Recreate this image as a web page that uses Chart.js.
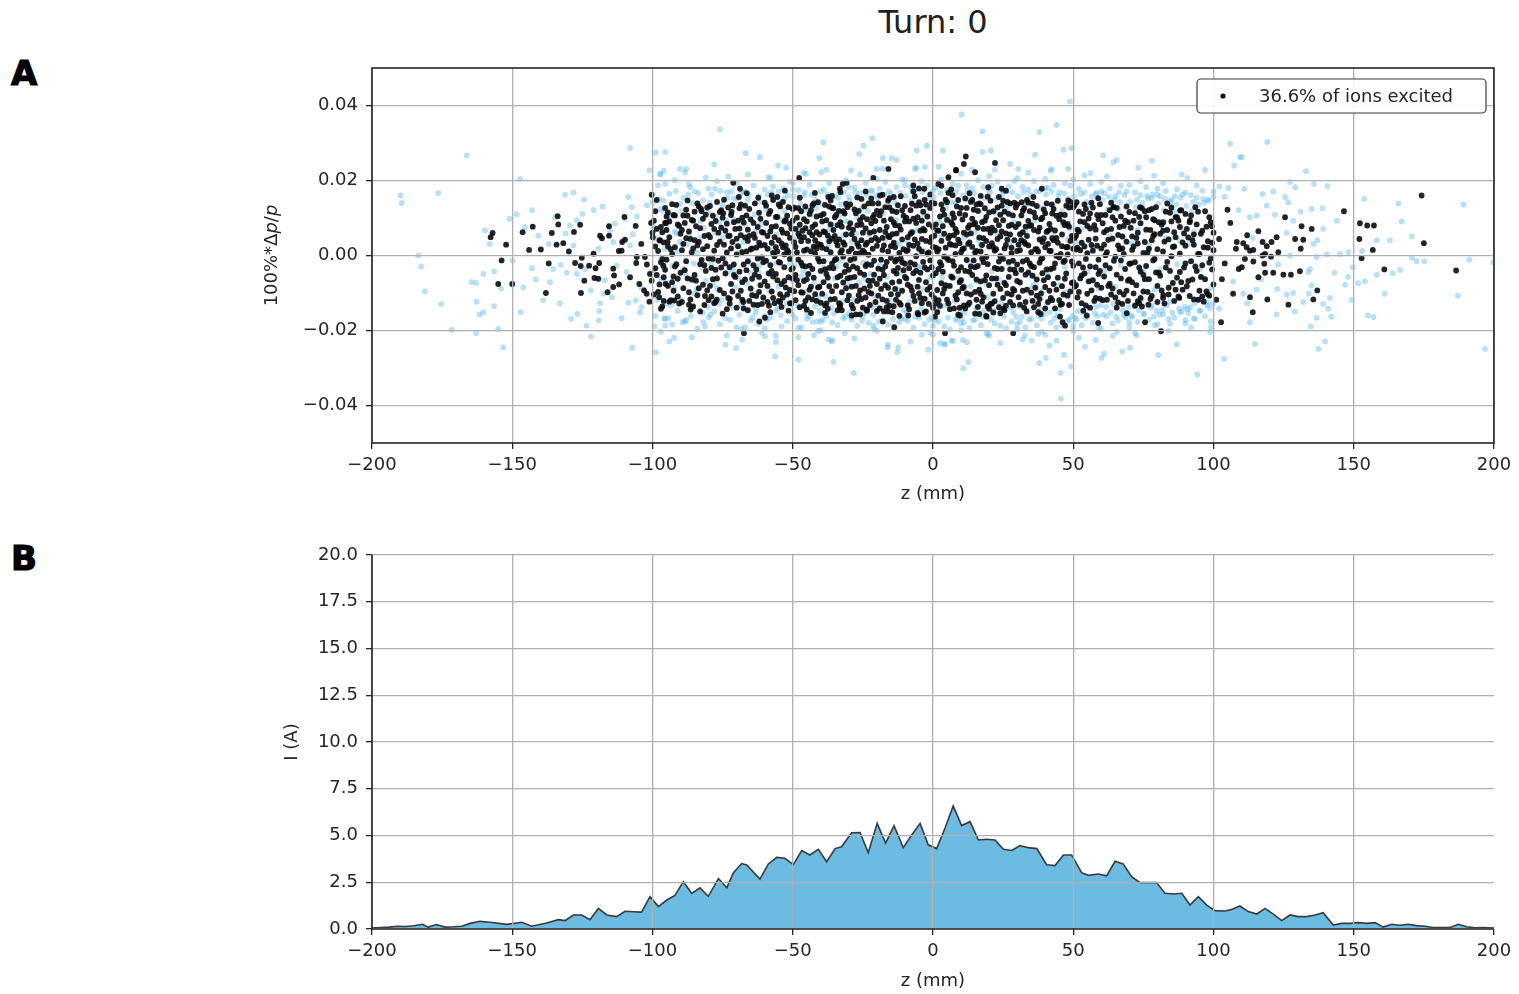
<!DOCTYPE html>
<html>
<head>
<meta charset="utf-8">
<script src="https://cdn.jsdelivr.net/npm/chart.js@4.4.1/dist/chart.umd.min.js"></script>
<style>
  html, body { margin: 0; padding: 0; background: #fff; width: 1519px; height: 994px; overflow: hidden; }
  .wrap { position: relative; width: 1519px; height: 994px; }
  canvas { position: absolute; left: 0; }
  #phaseSpace { top: 0; }
  #currentProfile { top: 512px; }
  .tag { position: absolute; left: 11px; font: bold 34px "DejaVu Sans"; line-height: 34px; color: #000;
         -webkit-text-stroke: 1.2px #000; }
  #title { position: absolute; left: 783px; width: 300px; top: 6px; text-align: center;
           font: 32px "DejaVu Sans"; line-height: 32px; color: #1e1e1e; }
</style>
</head>
<body>
<div class="wrap">
  <div id="title">Turn: 0</div>
  <div class="tag" style="top:56px">A</div>
  <div class="tag" style="top:541px">B</div>
  <canvas id="phaseSpace" width="1519" height="509"></canvas>
  <canvas id="currentProfile" width="1519" height="484"></canvas>
</div>
<script>
// ---- axis ticks ----
const zTicks = [-200, -150, -100, -50, 0, 50, 100, 150, 200];
const dpTicks = [-0.04, -0.02, 0, 0.02, 0.04];
const currentTicks = [0, 2.5, 5, 7.5, 10, 12.5, 15, 17.5, 20];

const legendLabel = '36.6% of ions excited';

// ---- excited ions, tails and fringe: [z (mm), dp/p (%)] ----
const excitedTails = [
  [-157,.006],[-157.7,.0049],[-152.2,.0029],[-153.8,-.0013],[-155,-.0076],[-150,-.0076],[-146.3,.0062],[-142.7,.0077],
  [-139.8,.0016],[-138,-.01],[-135.9,.006],[-134.2,.0029],[-133.8,.0105],[-133.6,.0083],[-131.8,.0033],[-129.8,.0011],
  [-128,.0063],[-137,-.0021],[-144,.0015],[-127.6,-.002],[-125.8,.0082],[-125.6,-.0028],[-125.5,-.01],[-125.2,-.0006],
  [-124.3,-.0067],[-122.6,-.0027],[-121,.0005],[-120.7,-.006],[-120.3,-.0034],[-119.3,-.0062],[-119,-.002],[-118.7,.0053],
  [-118,.0046],[-116,-.0098],[-115.5,.0078],[-115.5,.0053],[-114,-.0084],[-114,-.0035],[-113.7,-.0053],[-112,.0012],
  [-111.9,-.0077],[-111,.0013],[-110.8,.0036],[-110,.0103],[-109.8,.0042],[-108,-.0058],[-106,.0079],[-105.8,-.002],
  [-105.6,-.0004],[-104.7,-.0076],[-104,.0031],[-103,-.0093],[-102.7,-.0004],[-102.1,-.0102],[-102,-.0024],[-101.1,-.0123],
  [-100.9,-.0049],[-100.5,.0087],[-100.3,.0162],[-100.3,-.0067],[-99.9,.0049],[-97.6,-.0111],[-97.3,.004],[-96.1,-.0027],
  [-95.5,.0087],[-95.3,-.0076],[-95.2,.0087],[-94.6,.0036],[-92.2,-.012],[-92,.0107],[-89,.0107],[-86.4,-.0144],
  [-82.7,.0124],[-81.3,-.0108],[-77.1,-.0118],[-74.8,.0113],[-72.4,-.0116],[-71.8,.0116],[-71.2,.0194],[-69.2,.0156],
  [-68.8,.0178],[-67.6,-.0124],[-67.4,-.0207],[-66.4,.0166],[-62.3,.0154],[-61.9,-.0176],[-59.9,-.0166],[-57.5,.016],
  [-54.5,-.0124],[-52.8,.0173],[-51,-.0127],[-47.7,.0207],[-42.1,.0167],[-38.5,-.0133],[-37.3,.0156],[-33.2,.0178],
  [-33.2,-.0138],[-32.2,.0191],[-30.8,.0194],[-29,-.016],[-23.6,-.0147],[-21.3,.0207],[-18.9,.016],[-17.9,-.0176],
  [-16.5,-.0138],[-15.9,.0231],[-13.8,-.0191],[-13.2,-.0118],[-8.8,-.016],[-7,.0187],[-5.2,-.0157],[-3.1,.0178],
  [.7,-.0163],[1.9,.0191],[4.3,-.0207],[5.5,.0209],[8.2,.0228],[8.2,.0227],[9.6,-.016],[11.7,.0264],[15,.0222],
  [19.1,-.0163],[19.7,.0182],[22.1,.0247],[24.5,.0178],[25.1,-.0142],[28.6,-.0207],[28.6,-.0133],[31.6,.0142],
  [33.4,-.0149],[35.8,.0156],[38.4,-.0156],[38.8,.0178],[42.3,.0136],[45.3,-.0163],[46.2,-.0178],[47.1,-.0187],
  [48.2,.0147],[51.2,.0142],[53.6,-.0147],[54.8,-.016],[58.9,.0153],[58.9,-.018],[64.3,.0129],[69.1,-.0154],
  [73.8,.0129],[74,-.0113],[75.6,-.0178],[76.8,-.0131],[78,.0124],[81.3,-.0202],[82.1,.0089],[82.1,-.0105],
  [87.8,-.0113],[88.1,.012],[91.6,.0093],[94.6,-.0118],[98.5,-.0107],[99.4,.0078],[101,-.0118],[102,.0044],
  [102.7,-.0178],[103,-.0063],[104,-.0021],[105,.0122],[106,.0087],[107,-.0102],[108,.0018],[108.3,.0036],
  [109,-.0036],[110.1,-.0031],[110.6,.0033],[111.2,-.0009],[111.8,.0022],[112,.0054],[113,-.0111],[113,.0013],
  [114,-.0151],[114.2,.0015],[114.2,-.0016],[116,.0065],[116,-.0058],[117.5,.0036],[117.5,0],[118.1,-.0022],
  [118.4,.0004],[118.4,-.0046],[119,.0025],[119.2,-.0117],[120.5,-.0003],[120.7,.0036],[121.3,-.0046],[122.5,.0049],
  [123.1,.0009],[124.9,-.0051],[125.5,.0102],[126.7,-.0131],[127.6,-.0051],[129.1,.0044],[130.8,-.0042],[131.1,.0018],
  [131.4,.0078],[132,.0042],[135,.0071],[135.6,-.0117],[137,-.0093],[146.5,.0118],[152,.0044],[152.2,.0086],
  [152.8,-.0007],[154.8,.008],[156.8,.0015],[157.2,.008],[160.9,-.0037],[174.2,.016],[175,.0033],[186.5,-.004]
];

// ---- excited ions, core of the bunch: [z (mm), dp/p (%)] ----
const excitedCore = [
  [-100,.0061],[-99,-.0034],[-99,.0118],[-98,.0012],[-98,-.0097],[-97,.0076],[-97,-.0142],[-96,.0035],[-96,-.0058],[-95,.0104],
  [-95,-.0011],[-94,-.0123],[-94,.0049],[-93,.0137],[-93,-.0071],[-92,.0022],[-92,-.0029],[-91,.0083],[-91,-.0109],[-90,.0058],
  [-90,-.0046],[-99,.0024],[-97,-.0018],[-95,.0068],[-93,.0004],[-91,-.0062],[-94,.0091],[-96,-.0121],
  [-99.5,.0093],[-98.5,-.0052],[-97.5,.0041],[-96.5,-.0136],[-95.5,.0127],[-94.5,-.0081],[-93.5,.0017],[-92.5,.0108],[-91.5,-.0023],[-90.5,-.0128],
  [-99.5,-.0104],[-98.5,.0071],[-97.5,-.0077],[-96.5,.0062],[-95.5,-.0038],[-94.5,.0024],[-93.5,-.0119],[-92.5,-.0056],[-91.5,.0135],[-90.5,.0079],
  [-98.5,.0148],[-96.5,-.0009],[-94.5,.0115],[-92.5,-.0094],
  [-89,.0031],[-89,-.0087],[-88,.0122],[-88,-.0015],[-87,.0064],[-87,-.0131],[-86,.0008],[-86,.0095],[-85,-.0052],[-85,.0041],
  [-84,-.0106],[-84,.0139],[-83,-.0023],[-83,.0073],[-82,.0017],[-82,-.0078],[-81,.0109],[-81,-.0041],[-80,.0055],[-80,-.0119],
  [-88,.0046],[-86,-.0064],[-84,.0027],[-82,.0098],[-80,-.0008],[-87,-.0098],[-85,.0117],[-83,-.0149],
  [-89.5,.0068],[-88.5,-.0039],[-87.5,.0106],[-86.5,-.0117],[-85.5,.0019],[-84.5,-.0067],[-83.5,.0131],[-82.5,-.0012],[-81.5,.0052],[-80.5,-.0093],
  [-89.5,-.0124],[-88.5,.0087],[-87.5,-.0061],[-86.5,.0044],[-85.5,-.0136],[-84.5,.0078],[-83.5,-.0087],[-82.5,.0118],[-81.5,-.0026],[-80.5,.0025],
  [-89.5,.0014],[-87.5,.0147],[-85.5,.0093],[-83.5,.0036],[-81.5,-.0132],[-80.5,.0128],
  [-79,.0084],[-79,-.0033],[-78,.0013],[-78,-.0127],[-77,.0143],[-77,-.0061],[-76,.0037],[-76,-.0092],[-75,.0101],[-75,-.0007],
  [-74,-.0048],[-74,.0066],[-73,.0128],[-73,-.0113],[-72,.0019],[-72,-.0076],[-71,.0089],[-71,-.0024],[-70,.0045],[-70,-.0139],
  [-79,-.0109],[-77,.0028],[-75,-.0155],[-73,.0052],[-71,-.0052],[-78,.0071],[-76,.0116],[-74,-.0021],[-72,.0108],[-70,.0003],
  [-79.5,.0049],[-78.5,-.0063],[-77.5,.0092],[-76.5,-.0014],[-75.5,.0121],[-74.5,-.0101],[-73.5,.0008],[-72.5,-.0128],[-71.5,.0134],[-70.5,-.0057],
  [-79.5,-.0081],[-78.5,.0106],[-77.5,-.0123],[-76.5,.0061],[-75.5,-.0032],[-74.5,.0029],[-73.5,.0085],[-72.5,-.0031],[-71.5,-.0096],[-70.5,.0071],
  [-79.5,.0132],[-77.5,-.0038],[-75.5,.0074],[-73.5,-.0143],[-71.5,.0036],[-78.5,-.0009],[-74.5,.0149],[-72.5,.0053],
  [-69,.0072],[-69,-.0043],[-68,.0009],[-68,-.0118],[-67,.0133],[-67,-.0064],[-66,.0039],[-66,-.0015],[-65,.0096],[-65,-.0088],
  [-64,-.0131],[-64,.0057],[-63,.0021],[-63,-.0037],[-62,.0114],[-62,-.0097],[-61,.0063],[-61,-.0005],[-60,-.0069],[-60,.0141],
  [-69,.0126],[-68,-.0071],[-67,.0048],[-66,-.0146],[-65,.0016],[-64,.0087],[-63,-.0108],[-62,.0034],[-61,-.0129],[-60,.0028],
  [-68,.0101],[-66,.0069],[-64,-.0026],[-62,-.0057],
  [-69.5,.0025],[-68.5,-.0094],[-67.5,.0088],[-66.5,-.0039],[-65.5,.0124],[-64.5,-.0062],[-63.5,.0047],[-62.5,-.0132],[-61.5,.0098],[-60.5,-.0018],
  [-69.5,-.0108],[-68.5,.0054],[-67.5,-.0024],[-66.5,.0107],[-65.5,-.0121],[-64.5,.0019],[-63.5,.0139],[-62.5,.0076],[-61.5,-.0079],[-60.5,.0061],
  [-69.5,.0093],[-68.5,.0136],[-67.5,-.0141],[-66.5,.0011],[-65.5,.0052],[-64.5,-.0106],[-63.5,-.0051],[-62.5,-.0008],[-61.5,.0027],[-60.5,-.0112],
  [-59,.0052],[-59,-.0081],[-58,.0119],[-58,-.0026],[-57,.0007],[-57,-.0113],[-56,.0078],[-56,-.0049],[-55,.0136],[-55,-.0017],
  [-54,.0032],[-54,-.0137],[-53,.0091],[-53,-.0068],[-52,.0014],[-52,.0106],[-51,-.0092],[-51,.0047],[-50,-.0034],[-50,.0124],
  [-59,.0018],[-58,.0064],[-57,-.0056],[-56,.0103],[-55,-.0121],[-54,.0069],[-53,.0003],[-52,-.0104],[-51,.0084],[-50,-.0061],
  [-59,-.0124],[-57,.0148],[-55,.0041],[-53,-.0031],[-51,-.0009],[-58,-.0151],[-56,.0022],[-54,-.0076],[-52,.0059],[-50,.0093],
  [-59.5,.0087],[-58.5,-.0048],[-57.5,.0034],[-56.5,-.0127],[-55.5,.0103],[-54.5,-.0019],[-53.5,.0061],[-52.5,-.0085],[-51.5,.0129],[-50.5,-.0037],
  [-59.5,-.0014],[-58.5,.0111],[-57.5,-.0096],[-56.5,.0049],[-55.5,-.0066],[-54.5,.0131],[-53.5,-.0112],[-52.5,.0027],[-51.5,-.0058],[-50.5,.0072],
  [-59.5,.0133],[-58.5,-.0134],[-57.5,.0076],[-56.5,-.0002],[-55.5,.0011],[-54.5,-.0103],[-53.5,.0143],[-52.5,.0094],[-51.5,.0009],[-50.5,-.0128],
  [-57.5,-.0041],[-55.5,.0156],[-53.5,.0022],[-51.5,-.0147],
  [-49,.0071],[-49,-.0052],[-48,.0126],[-48,-.0011],[-47,.0038],[-47,-.0098],[-46,.0097],[-46,-.0134],[-45,.0016],[-45,-.0063],
  [-44,.0111],[-44,-.0027],[-43,.0054],[-43,-.0117],[-42,.0005],[-42,.0083],[-41,-.0085],[-41,.0142],[-40,-.0041],[-40,.0029],
  [-49,.0023],[-48,-.0079],[-47,.0118],[-46,.0049],[-45,-.0144],[-44,.0062],[-43,-.0036],[-42,-.0103],[-41,.0031],[-40,.0107],
  [-49,-.0119],[-48,.0058],[-47,-.0019],[-46,-.0068],[-45,.0091],[-44,-.0091],[-43,.0134],[-42,.0041],[-41,-.0008],[-40,-.0126],
  [-46,.0013],[-43,.0076],
  [-49.5,.0035],[-48.5,-.0066],[-47.5,.0082],[-46.5,-.0027],[-45.5,.0131],[-44.5,-.0112],[-43.5,.0011],[-42.5,-.0059],[-41.5,.0104],[-40.5,-.0083],
  [-49.5,-.0095],[-48.5,.0101],[-47.5,-.0138],[-46.5,.0066],[-45.5,-.0029],[-44.5,.0039],[-43.5,.0121],[-42.5,.0024],[-41.5,-.0121],[-40.5,.0056],
  [-49.5,.0128],[-48.5,.0008],[-47.5,.0051],[-46.5,-.0099],[-45.5,.0073],[-44.5,-.0049],[-43.5,-.0083],[-42.5,.0139],[-41.5,.0062],[-40.5,-.0016],
  [-47.5,.0154],[-45.5,-.0121],[-43.5,-.0153],[-41.5,.0019],
  [-39,.0064],[-39,-.0071],[-38,.0017],[-38,-.0128],[-37,.0131],[-37,-.0033],[-36,.0045],[-36,-.0095],[-35,.0102],[-35,-.0012],
  [-34,.0027],[-34,-.0146],[-33,.0089],[-33,-.0054],[-32,-.0003],[-32,.0118],[-31,-.0087],[-31,.0056],[-30,-.0038],[-30,.0074],
  [-39,.0111],[-38,-.0049],[-37,.0038],[-36,-.0021],[-35,-.0116],[-34,.0081],[-33,.0008],[-32,-.0072],[-31,.0138],[-30,-.0107],
  [-39,-.0015],[-38,.0094],[-37,-.0082],[-36,.0127],[-35,.0052],[-34,-.0058],[-33,-.0131],[-32,.0035],[-31,-.0026],[-30,.0011],
  [-36,.0159],[-33,.0169],
  [-39.5,.0091],[-38.5,-.0037],[-37.5,.0053],[-36.5,-.0117],[-35.5,.0126],[-34.5,-.0009],[-33.5,.0043],[-32.5,-.0098],[-31.5,.0112],[-30.5,-.0061],
  [-39.5,-.0102],[-38.5,.0062],[-37.5,-.0059],[-36.5,.0083],[-35.5,-.0034],[-34.5,.0108],[-33.5,-.0127],[-32.5,.0014],[-31.5,-.0044],[-30.5,.0129],
  [-39.5,.0021],[-38.5,.0135],[-37.5,-.0142],[-36.5,.0009],[-35.5,.0068],[-34.5,-.0081],[-33.5,.0119],[-32.5,.0077],[-31.5,.0029],[-30.5,-.0119],
  [-38.5,-.0153],[-36.5,.0147],[-34.5,.0037],[-32.5,-.0146],
  [-29,.0057],[-29,-.0083],[-28,.0123],[-28,-.0008],[-27,.0032],[-27,-.0121],[-26,.0094],[-26,-.0046],[-25,.0013],[-25,-.0139],
  [-24,.0072],[-24,-.0028],[-23,.0139],[-23,-.0067],[-22,.0041],[-22,-.0101],[-21,.0108],[-21,-.0014],[-20,.0026],[-20,-.0076],
  [-29,.0018],[-28,-.0057],[-27,.0081],[-26,.0006],[-25,.0061],[-24,-.0112],[-23,.0002],[-22,.0086],[-21,-.0051],[-20,.0119],
  [-29,-.0132],[-28,.0044],[-27,-.0034],[-26,-.0093],[-25,.0103],[-24,.0029],[-23,-.0097],[-22,-.0025],[-21,.0064],[-20,-.0148],
  [-27,.0155],[-24,.0171],[-22,.0152],[-26,-.0157],
  [-29.5,.0086],[-28.5,-.0029],[-27.5,.0113],[-26.5,-.0106],[-25.5,.0041],[-24.5,-.0051],[-23.5,.0097],[-22.5,-.0081],[-21.5,.0018],[-20.5,-.0124],
  [-29.5,-.0059],[-28.5,.0069],[-27.5,-.0081],[-26.5,.0024],[-25.5,-.0116],[-24.5,.0131],[-23.5,-.0023],[-22.5,.0061],[-21.5,.0139],[-20.5,.0047],
  [-29.5,.0136],[-28.5,-.0141],[-27.5,.0005],[-26.5,.0119],[-25.5,.0082],[-24.5,-.0088],[-23.5,.0034],[-22.5,-.0132],[-21.5,-.0067],[-20.5,.0092],
  [-29.5,-.0012],[-27.5,-.0157],[-25.5,.0151],[-23.5,-.0144],[-21.5,.0101],[-24.5,.0009],
  [-19,.0068],[-19,-.0062],[-18,.0015],[-18,-.0117],[-17,.0129],[-17,-.0029],[-16,.0052],[-16,-.0086],[-15,.0097],[-15,-.0006],
  [-14,.0034],[-14,-.0135],[-13,.0116],[-13,-.0048],[-12,.0007],[-12,.0079],[-11,-.0094],[-11,.0043],[-10,-.0022],[-10,.0132],
  [-19,.0107],[-18,-.0038],[-17,.0063],[-16,.0011],[-15,-.0103],[-14,.0088],[-13,-.0011],[-12,-.0069],[-11,.0121],[-10,-.0057],
  [-19,-.0141],[-18,.0047],[-17,-.0079],[-16,.0146],[-15,.0025],[-14,-.0041],[-13,.0059],[-12,-.0126],[-11,-.0018],[-10,.0091],
  [-18,.0162],[-14,.0156],[-12,-.0161],[-16,-.0149],
  [-19.5,.0041],[-18.5,-.0089],[-17.5,.0093],[-16.5,-.0017],[-15.5,.0128],[-14.5,-.0072],[-13.5,.0022],[-12.5,-.0104],[-11.5,.0069],[-10.5,-.0039],
  [-19.5,-.0107],[-18.5,.0118],[-17.5,-.0052],[-16.5,.0076],[-15.5,-.0134],[-14.5,.0057],[-13.5,-.0089],[-12.5,.0134],[-11.5,-.0008],[-10.5,.0106],
  [-19.5,.0139],[-18.5,-.0011],[-17.5,.0027],[-16.5,-.0121],[-15.5,.0049],[-14.5,.0119],[-13.5,.0081],[-12.5,-.0033],[-11.5,-.0131],[-10.5,.0017],
  [-19.5,-.0035],[-17.5,-.0149],[-15.5,.0153],[-13.5,-.0016],[-11.5,.0158],[-14.5,-.0151],
  [-9,.0049],[-9,-.0078],[-8,.0121],[-8,-.0019],[-7,.0026],[-7,-.0108],[-6,.0087],[-6,-.0041],[-5,.0142],[-5,-.0065],
  [-4,.0011],[-4,-.0127],[-3,.0067],[-3,-.0032],[-2,.0104],[-2,-.0091],[-1,.0036],[-1,-.0013],[0,.0076],[0,-.0053],
  [-9,.0014],[-8,.0058],[-7,-.0047],[-6,.0133],[-5,.0018],[-4,.0093],[-3,-.0115],[-2,.0005],[-1,.0127],[0,-.0139],
  [-9,-.0133],[-8,-.0083],[-7,.0098],[-6,-.0002],[-5,-.0101],[-4,.0044],[-3,.0148],[-2,-.0037],[-1,-.0084],[0,.0023],
  [-7,.0171],[-3,-.0152],[-1,.0163],[-5,.0179],
  [-9.5,.0101],[-8.5,-.0034],[-7.5,.0062],[-6.5,-.0121],[-5.5,.0032],[-4.5,-.0046],[-3.5,.0117],[-2.5,-.0071],[-1.5,.0083],[-.5,-.0104],
  [-9.5,-.0061],[-8.5,.0091],[-7.5,-.0094],[-6.5,.0043],[-5.5,-.0083],[-4.5,.0134],[-3.5,-.0017],[-2.5,.0039],[-1.5,-.0129],[-.5,.0049],
  [-9.5,.0012],[-8.5,-.0143],[-7.5,.0138],[-6.5,-.0024],[-5.5,.0102],[-4.5,-.0113],[-3.5,.0071],[-2.5,.0136],[-1.5,.0008],[-.5,-.0031],
  [-8.5,.0028],[-6.5,.0158],[-4.5,.0066],[-2.5,-.0149],[-.5,.0141],[-5.5,-.0153],
  [1,.0083],[1,-.0047],[2,.0017],[2,-.0119],[3,.0136],[3,-.0026],[4,.0058],[4,-.0089],[5,.0095],[5,-.0007],
  [6,.0031],[6,-.0143],[7,.0112],[7,-.0059],[8,.0004],[8,.0071],[9,-.0098],[9,.0042],[10,-.0031],[10,.0127],
  [1,.0021],[2,.0066],[3,-.0074],[4,.0109],[5,-.0118],[6,.0053],[7,-.0015],[8,-.0107],[9,.0148],[10,-.0066],
  [1,-.0128],[2,-.0036],[3,.0039],[4,-.0003],[5,.0142],[6,-.0081],[7,.0082],[8,.0027],[9,-.0041],[10,.0009],
  [3,.0186],[7,.0161],[11,.0244],[9,-.0158],
  [.5,.0053],[1.5,-.0092],[2.5,.0104],[3.5,-.0043],[4.5,.0021],[5.5,-.0128],[6.5,.0089],[7.5,-.0027],[8.5,.0131],[9.5,-.0071],
  [.5,-.0114],[1.5,.0067],[2.5,-.0018],[3.5,.0122],[4.5,-.0079],[5.5,.0046],[6.5,-.0056],[7.5,.0101],[8.5,-.0117],[9.5,.0033],
  [.5,.0139],[1.5,.0011],[2.5,-.0134],[3.5,.0078],[4.5,.0149],[5.5,-.0012],[6.5,.0029],[7.5,-.0141],[8.5,.0062],[9.5,.0112],
  [1.5,-.0151],[3.5,-.0101],[5.5,.0167],[7.5,.0054],[9.5,-.0139],[6.5,.0176],
  [11,.0061],[11,-.0084],[12,.0127],[12,-.0012],[13,.0035],[13,-.0126],[14,.0098],[14,-.0052],[15,.0008],[15,-.0097],
  [16,.0074],[16,-.0028],[17,.0137],[17,-.0069],[18,.0046],[18,-.0111],[19,.0103],[19,-.0004],[20,.0024],[20,-.0079],
  [11,.0019],[12,.0056],[13,-.0043],[14,.0148],[15,.0087],[16,-.0137],[17,.0011],[18,.0071],[19,-.0053],[20,.0115],
  [11,-.0133],[12,-.0101],[13,.0081],[14,.0023],[15,-.0031],[16,.0119],[17,-.0102],[18,-.0018],[19,.0039],[20,-.0142],
  [13,.0166],[17,.0159],[15,-.0155],[19,-.0161],
  [10.5,.0096],[11.5,-.0041],[12.5,.0031],[13.5,-.0104],[14.5,.0122],[15.5,-.0064],[16.5,.0048],[17.5,-.0123],[18.5,.0093],[19.5,-.0023],
  [10.5,-.0087],[11.5,.0108],[12.5,-.0131],[13.5,.0059],[14.5,-.0013],[15.5,.0136],[16.5,-.0091],[17.5,.0028],[18.5,-.0066],[19.5,.0071],
  [10.5,.0017],[11.5,.0152],[12.5,.0074],[13.5,-.0029],[14.5,.0083],[15.5,-.0118],[16.5,.0139],[17.5,-.0008],[18.5,.0126],[19.5,-.0136],
  [11.5,-.0141],[13.5,.0143],[15.5,.0012],[17.5,.0089],[19.5,.0157],[16.5,-.0156],
  [21,.0074],[21,-.0061],[22,.0013],[22,-.0122],[23,.0128],[23,-.0036],[24,.0051],[24,-.0089],[25,.0094],[25,-.0009],
  [26,.0028],[26,-.0134],[27,.0111],[27,-.0057],[28,.0006],[28,.0082],[29,-.0093],[29,.0041],[30,-.0024],[30,.0136],
  [21,.0033],[22,.0067],[23,-.0078],[24,.0109],[25,-.0113],[26,.0059],[27,-.0017],[28,-.0104],[29,.0141],[30,-.0068],
  [21,-.0128],[22,-.0033],[23,.0044],[24,-.0002],[25,.0146],[26,-.0079],[27,.0079],[28,.0021],[29,-.0038],[30,.0012],
  [26,.0173],[24,-.0154],
  [20.5,.0061],[21.5,-.0102],[22.5,.0094],[23.5,-.0016],[24.5,.0133],[25.5,-.0073],[26.5,.0042],[27.5,-.0124],[28.5,.0107],[29.5,-.0047],
  [20.5,-.0129],[21.5,.0023],[22.5,-.0061],[23.5,.0081],[24.5,-.0036],[25.5,.0117],[26.5,-.0101],[27.5,.0056],[28.5,-.0014],[29.5,.0128],
  [20.5,.0146],[21.5,.0118],[22.5,.0017],[23.5,-.0138],[24.5,.0064],[25.5,.0019],[26.5,.0143],[27.5,-.0037],[28.5,-.0089],[29.5,.0076],
  [21.5,-.0152],[23.5,.0156],[25.5,-.0146],[27.5,.0139],
  [31,.0057],[31,-.0072],[32,.0119],[32,-.0016],[33,.0031],[33,-.0124],[34,.0092],[34,-.0045],[35,.0009],[35,-.0099],
  [36,.0068],[36,-.0031],[37,.0132],[37,-.0064],[38,.0043],[38,-.0116],[39,.0101],[39,-.0007],[40,.0022],[40,-.0084],
  [31,.0014],[32,.0062],[33,-.0051],[34,.0141],[35,.0081],[36,-.0138],[37,.0017],[38,.0074],[39,-.0047],[40,.0113],
  [31,-.0131],[32,-.0094],[33,.0077],[34,.0027],[35,-.0028],[36,.0114],[37,-.0107],[38,-.0019],[39,.0036],[40,-.0141],
  [30.5,.0084],[31.5,-.0038],[32.5,.0036],[33.5,-.0091],[34.5,.0118],[35.5,-.0054],[36.5,.0017],[37.5,-.0129],[38.5,.0097],[39.5,-.0066],
  [30.5,-.0111],[31.5,.0107],[32.5,-.0139],[33.5,.0052],[34.5,-.0021],[35.5,.0138],[36.5,-.0086],[37.5,.0064],[38.5,-.0009],[39.5,.0123],
  [30.5,.0029],[31.5,.0041],[32.5,.0126],[33.5,-.0012],[34.5,.0079],[35.5,-.0121],[36.5,.0102],[37.5,.0011],[38.5,-.0101],[39.5,.0046],
  [33.5,.0148],[37.5,-.0151],
  [41,.0066],[41,-.0058],[42,.0012],[42,-.0113],[43,.0124],[43,-.0033],[44,.0047],[44,-.0091],[45,.0097],[45,-.0005],
  [46,.0025],[46,-.0129],[47,.0108],[47,-.0062],[48,.0003],[48,.0084],[49,-.0096],[49,.0039],[50,-.0027],[50,.0129],
  [41,.0031],[42,.0071],[43,-.0076],[44,.0106],[45,-.0119],[46,.0056],[47,-.0014],[48,-.0107],[49,.0143],[50,-.0071],
  [41,-.0124],[42,-.0036],[43,.0041],[44,-.0001],[46,-.0082],[47,.0081],[48,.0023],[50,.0018],
  [40.5,.0063],[41.5,-.0094],[42.5,.0112],[43.5,-.0021],[44.5,.0034],[45.5,-.0131],[46.5,.0089],[47.5,-.0048],[48.5,.0128],[49.5,-.0073],
  [40.5,-.0037],[41.5,.0084],[42.5,-.0119],[43.5,.0067],[44.5,-.0059],[45.5,.0109],[46.5,-.0017],[47.5,.0022],[48.5,-.0132],[49.5,.0052],
  [40.5,.0139],[41.5,.0013],[42.5,.0046],[43.5,-.0141],[44.5,.0146],[45.5,.0004],[46.5,-.0104],[47.5,.0133],[48.5,.0077],[49.5,-.0016],
  [51,.0053],[51,-.0079],[52,.0117],[52,-.0021],[53,.0034],[53,-.0127],[54,.0089],[54,-.0048],[55,.0006],[55,-.0102],
  [56,.0072],[56,-.0029],[57,.0128],[57,-.0066],[58,.0045],[58,-.0113],[59,.0097],[59,-.0011],[60,.0019],[60,-.0086],
  [51,.0016],[52,.0064],[53,-.0053],[54,.0136],[55,.0079],[56,-.0139],[57,.0013],[58,.0069],[59,-.0049],[60,.0108],
  [52,-.0097],[54,.0024],[56,.0112],[58,-.0031],
  [50.5,.0047],[51.5,-.0112],[52.5,.0091],[53.5,-.0032],[54.5,.0124],[55.5,-.0069],[56.5,.0028],[57.5,-.0121],[58.5,.0108],[59.5,-.0041],
  [50.5,-.0083],[51.5,.0069],[52.5,-.0061],[53.5,.0111],[54.5,-.0009],[55.5,.0042],[56.5,-.0093],[57.5,.0081],[58.5,-.0078],[59.5,.0137],
  [50.5,.0134],[52.5,.0014],[54.5,-.0133],[56.5,.0141],[58.5,.0026],[51.5,.0021],[55.5,.0099],[59.5,-.0115],
  [61,.0062],[61,-.0056],[62,.0009],[62,-.0118],[63,.0121],[63,-.0034],[64,.0045],[64,-.0088],[65,.0093],[65,-.0003],
  [66,.0027],[66,-.0125],[67,.0104],[67,-.0061],[68,.0004],[68,.0079],[69,-.0094],[69,.0037],[70,-.0022],[70,.0116],
  [61,.0029],[62,.0068],[63,-.0075],[64,.0102],[65,-.0112],[66,.0055],[67,-.0013],[68,-.0104],[69,.0131],[70,-.0064],
  [60.5,.0086],[61.5,-.0026],[62.5,.0042],[63.5,-.0104],[64.5,.0129],[65.5,-.0051],[66.5,.0017],[67.5,-.0129],[68.5,.0093],[69.5,-.0067],
  [60.5,-.0119],[61.5,.0108],[62.5,-.0081],[63.5,.0071],[64.5,-.0014],[65.5,.0127],[66.5,-.0097],[67.5,.0051],[68.5,-.0036],[69.5,.0089],
  [61.5,.0001],[63.5,.0141],[65.5,-.0139],[67.5,.0019],[69.5,-.0121],[66.5,.0076],
  [71,.0051],[71,-.0071],[72,.0113],[72,-.0018],[73,.0032],[73,-.0122],[74,.0086],[74,-.0043],[75,.0007],[75,-.0096],
  [76,.0069],[76,-.0028],[77,.0121],[77,-.0063],[78,.0041],[78,-.0108],[79,.0094],[79,-.0009],[80,.0017],[80,-.0081],
  [71,.0015],[73,.0061],[75,-.0052],[77,.0018],[79,.0057],[72,-.0134],[76,.0102],[80,-.0124],
  [70.5,.0074],[71.5,-.0101],[72.5,.0047],[73.5,-.0032],[74.5,.0126],[75.5,-.0063],[76.5,.0008],[77.5,-.0116],[78.5,.0097],[79.5,-.0045],
  [70.5,-.0021],[71.5,.0093],[72.5,-.0079],[73.5,.0103],[74.5,-.0136],[75.5,.0036],[76.5,-.0097],[77.5,.0068],[78.5,-.0013],[79.5,.0129],
  [71.5,.0024],[73.5,-.0127],[75.5,.0118],[78.5,.0052],
  [81,.0058],[81,-.0054],[82,.0011],[82,-.0113],[83,.0117],[83,-.0032],[84,.0043],[84,-.0086],[85,.0091],[85,-.0002],
  [86,.0024],[86,-.0121],[87,.0102],[87,-.0059],[88,.0005],[88,.0076],[89,-.0091],[89,.0035],[90,-.0021],[90,.0111],
  [82,.0066],[84,-.0104],[86,.0062],[88,-.0044],[90,.0026],[85,.0128],
  [80.5,.0089],[81.5,-.0093],[82.5,.0037],[83.5,-.0017],[84.5,.0114],[85.5,-.0073],[86.5,.0049],[87.5,-.0109],[88.5,.0121],[89.5,-.0032],
  [80.5,-.0046],[81.5,.0082],[82.5,-.0128],[83.5,.0068],[84.5,-.0041],[85.5,.0023],[86.5,-.0091],[87.5,.0093],[88.5,-.0071],[89.5,.0059],
  [83.5,.0139],[86.5,.0102],
  [91,.0048],[91,-.0068],[92,.0107],[92,-.0015],[93,.0029],[93,-.0117],[94,.0083],[94,-.0041],[95,.0004],[95,-.0094],
  [96,.0066],[96,-.0026],[97,.0118],[97,-.0063],[98,.0038],[98,-.0103],[99,.0089],[99,-.0008],[100,.0014],[100,-.0077],
  [93,.0056],[96,-.0109],[98,.0021],[100,.0061],
  [90.5,.0071],[91.5,-.0108],[92.5,.0041],[93.5,-.0029],[94.5,.0117],[95.5,-.0057],[96.5,.0022],[97.5,-.0096],[98.5,.0102],[99.5,-.0037],
  [90.5,-.0082],[91.5,.0089],[92.5,-.0064],[93.5,.0129],[94.5,.0004],[95.5,.0058],[96.5,-.0123],[97.5,.0077],[98.5,-.0019],[99.5,.0034]
];

// ---- remaining ions, tails and fringe: [z (mm), dp/p (%)] ----
const otherTails = [
  [-189.8,.016],[-189.4,.014],[-183.5,0],[-182.5,-.0029],[-181.1,-.0096],[-176.4,.0166],[-175.4,-.0129],[-171.6,-.0198],
  [-166.2,.0267],[-164.5,-.0071],[-162.9,-.0207],[-162.9,-.0073],[-162.7,-.0123],[-161.7,-.0157],[-160.3,-.0151],[-160.3,-.0049],
  [-159.7,.0067],[-156.5,-.0135],[-156.5,-.0042],[-155,-.0196],[-153.2,-.0245],[-149.8,-.0013],[-148.4,.011],[-147.2,.0204],
  [-146.1,-.0085],[-145.5,.0076],[-141.6,-.0064],[-140.7,.0053],[-136.5,-.0071],[-135.4,-.0036],[-134.8,.0102],[-132.7,-.0025],
  [-131.2,.0162],[-130.6,-.0046],[-129.4,.008],[-129,-.0169],[-128.2,.0168],[-128.2,.0027],[-127,-.0049],[-126.8,-.0156],
  [-125,.0111],[-124.4,.0149],[-123.5,-.0187],[-122,-.0093],[-121.9,-.0216],[-119.3,.0018],[-119.2,-.0173],[-118.7,-.0127],
  [-117.8,.0131],[-117.5,-.0102],[-115.2,.0067],[-114.5,-.0111],[-113.4,.0085],[-112.8,-.0027],[-109.8,.0098],[-109.2,-.0044],
  [-108.6,.0156],[-108.6,-.0126],[-108,.0287],[-108,.0027],[-107.4,.0129],[-107.2,-.0246],[-106,-.012],[-105.6,.0104],
  [-104.5,-.0151],[-103.9,-.0138],[-101.1,.0227],[-98.8,.0274],[-98.8,-.0258],[-97.3,.0218],[-97.1,.0216],[-96.1,.0147],
  [-95.8,-.0167],[-95.5,.0276],[-95.5,.0191],[-95.5,-.0187],[-95.5,-.0169],[-92.3,-.022],[-90.2,.0231],[-88.4,.0222],
  [-88.4,-.0176],[-86.6,.0182],[-81.9,-.0178],[-77.7,.0178],[-75.9,.0336],[-73.5,.0169],[-73.5,-.0213],[-70.2,-.0247],
  [-68.2,-.0196],[-66.8,.0273],[-62.3,-.0182],[-61.7,.0262],[-59.9,-.0215],[-58.7,.0209],[-56.3,-.0269],[-56,-.0231],
  [-55.2,.024],[-52.4,.0234],[-48,-.0278],[-48,-.0193],[-45.3,.0218],[-45,-.0169],[-42.4,-.0213],[-40.5,.026],
  [-39.9,.0222],[-39.1,.0302],[-37.3,-.0224],[-36.1,-.0229],[-35.5,-.0284],[-31.4,-.0207],[-29.2,.0227],[-28.2,-.0313],
  [-26.3,.0271],[-24.8,.0293],[-21.6,.0313],[-21.3,-.0187],[-20.1,.0231],[-17.9,.026],[-16.2,-.0245],[-14.7,.026],
  [-12.9,.0255],[-12.7,-.0258],[-12.4,-.0245],[-6.4,.0231],[-5.8,.028],[-4,-.0211],[-2.9,.0236],[-2.2,.0293],
  [-1.7,-.0251],[2.5,-.0234],[3.5,.028],[4.3,-.0237],[6.7,-.0227],[7,-.0227],[10.2,.0376],[10.6,-.0225],
  [10.8,-.0301],[12.6,-.0284],[17.7,.0331],[17.7,.0276],[19.7,-.0209],[20.6,.028],[27.5,.0244],[30.4,.0231],
  [32.8,-.0213],[35.2,-.0227],[36.4,.0269],[37.5,-.0209],[37.9,.0329],[37.9,-.0287],[40.2,-.0273],[41.5,-.024],
  [42.3,.0231],[44.1,.0348],[45.5,-.0313],[45.6,-.0382],[46.5,.0282],[46.7,-.0265],[48.2,.0231],[48.8,.0411],
  [49.2,-.0296],[49.4,.0286],[54.2,-.0243],[56.2,.022],[58,-.0225],[60.1,-.0273],[60.7,.0267],[61,-.0262],
  [64.3,.0249],[65.5,.0255],[65.5,-.0204],[67.5,-.0256],[70.2,-.0246],[72.6,-.0213],[73.2,.0234],[78,.0253],
  [78.8,.0213],[80.3,-.0265],[84.5,-.0182],[86.9,-.0237],[88.7,.0216],[90.7,.0207],[93.4,-.0169],[94.2,-.0317],
  [97,.0228],[98.8,-.0204],[99.1,-.0191],[102.1,.0184],[103.8,-.0276],[105.3,.018],[105.9,.0298],[107.4,.024],
  [109.4,.0262],[110.1,.0262],[110.6,-.0102],[111,.0178],[113,.0102],[113,-.0178],[114.8,-.0236],[115.4,.0107],
  [115.4,-.0091],[117.5,.0164],[119.2,.0303],[121.3,.0171],[121.9,.0109],[122.5,-.0157],[122.7,-.0089],[125.5,.0156],
  [126.1,-.0104],[126.7,.0142],[127.3,.0196],[127.3,0],[128.4,.0093],[128.4,-.01],[129.1,.0182],[132,-.0124],
  [133,.0225],[133.8,-.0044],[134.4,-.0036],[134.7,-.0189],[135,.0124],[135,-.008],[135.6,.0031],[135.8,.0191],
  [136.8,-.0166],[136.8,-.0004],[137.4,-.0249],[138.9,.0126],[139.1,.0071],[139.1,-.0129],[139.8,-.0229],[140.4,.0003],
  [140.6,.0185],[140.9,-.0142],[141.5,-.0113],[143.1,-.0046],[145.1,.0004],[146.9,-.0078],[148.1,.0009],[149.3,-.0118],
  [149.6,-.0031],[151.6,-.0074],[153.7,.0151],[154,-.0069],[155,-.016],[157,-.0164],[158.2,.004],[158.2,-.0051],
  [162.9,.004],[163.9,-.0047],[166.5,-.0038],[167.1,.0091],[170.7,.0051],[170.7,-.0006],[172.4,-.0015],[175.1,-.0015],
  [187.1,-.0107],[189.1,.0136],[191.2,-.0011],[196.8,-.0249],[199.8,-.0018],
  [-158,.0031],[-154,-.0088],[-151,.0098],[-147,-.0151],[-143,.0121],[-139,-.0119],[-137,.0031],[-133,-.0128],[-131,.0059],[-127,.0094],
  [-124,-.0036],[-121,.0121],[-117,-.0066],[-114,.0036],[-111,-.0167],[-107,.0057],[-104,-.0086],[-102,.0134],[-143,-.0034],[-119,-.0148],
  [102,-.0142],[104,.0157],[107,-.0069],[109,.0121],[112,-.0127],[114,.0047],[117,-.0063],[119,.0133],[123,-.0024],[126,.0061],
  [129,-.0149],[131,.0117],[134,-.0101],[137,.0041],[142,-.0163],[144,.0093],[148,-.0057],[153,.0012],[161,-.0102],[166,.0139]
];

// ---- remaining ions, halo around the core: [z (mm), dp/p (%)] ----
const otherCore = [
  [-100,.0142],[-99,-.0161],[-98,.0187],[-97,-.0203],[-96,.0119],[-95,-.0128],[-94,.0165],[-93,-.0184],[-92,.0201],[-91,-.0147],
  [-90,.0138],[-99,.0045],[-97,-.0062],[-95,.0082],[-93,-.0027],[-91,.0011],[-98,-.0098],[-96,.0226],[-94,-.0229],[-92,.0064],[-100,-.0042],
  [-99.7,.0077],[-98.3,-.0118],[-97.7,.0151],[-96.3,-.0029],[-95.7,.0016],[-94.3,-.0167],[-93.7,.0103],[-92.3,-.0086],[-91.7,.0172],[-90.3,.0037],
  [-99.3,-.0189],[-97.3,.0124],[-95.3,-.0071],[-93.3,-.0133],[-91.3,.0059],
  [-89,.0154],[-88,-.0172],[-87,.0191],[-86,-.0139],[-85,.0171],[-84,-.0196],[-83,.0124],[-82,-.0153],[-81,.0208],[-80,-.0165],
  [-89,-.0036],[-87,.0053],[-85,-.0102],[-83,.0092],[-81,-.0068],[-88,.0231],[-86,-.0218],[-84,.0008],[-82,.0147],[-80,.0179],[-90,-.0117],
  [-89.7,.0118],[-88.3,-.0049],[-87.7,.0029],[-86.3,-.0161],[-85.7,.0139],[-84.3,-.0091],[-83.7,.0167],[-82.3,-.0032],[-81.7,.0074],[-80.3,-.0137],
  [-89.3,-.0178],[-87.3,.0163],[-85.3,-.0021],[-83.3,.0046],[-81.3,-.0189],
  [-79,.0163],[-78,-.0149],[-77,.0198],[-76,-.0183],[-75,.0136],[-74,-.0167],[-73,.0211],[-72,-.0138],[-71,.0152],[-70,-.0192],
  [-79,-.0021],[-77,-.0089],[-75,.0048],[-73,-.0043],[-71,.0096],[-78,.0243],[-76,.0088],[-74,-.0238],[-72,.0171],[-70,.0027],[-80,.0116],
  [-79.7,.0141],[-78.3,-.0076],[-77.7,.0061],[-76.3,-.0129],[-75.7,.0172],[-74.3,-.0011],[-73.7,.0093],[-72.3,-.0172],[-71.7,.0128],[-70.3,-.0084],
  [-79.3,-.0158],[-77.3,.0103],[-75.3,-.0118],[-73.3,.0154],[-71.3,-.0038],
  [-69,-.0158],[-68,.0168],[-67,-.0191],[-66,.0149],[-65,-.0173],[-64,.0187],[-63,-.0141],[-62,.0159],[-61,-.0206],[-60,.0176],
  [-69,.0017],[-67,.0082],[-65,-.0047],[-63,.0066],[-61,.0032],[-68,-.0224],[-66,.0216],[-64,-.0102],[-62,-.0028],[-70,.0193],[-60,-.0162],
  [-69.7,.0153],[-68.3,-.0129],[-67.7,.0036],[-66.3,-.0074],[-65.7,.0162],[-64.3,-.0166],[-63.7,.0109],[-62.3,-.0044],[-61.7,.0143],[-60.3,-.0117],
  [-69.3,-.0061],[-67.3,.0171],[-65.3,-.0019],[-63.3,-.0153],[-61.3,.0084],
  [-59,.0163],[-58,-.0166],[-57,.0184],[-56,-.0147],[-55,.0171],[-54,-.0189],[-53,.0152],[-52,-.0175],[-51,.0197],[-50,-.0158],
  [-59,-.0047],[-57,.0031],[-55,-.0083],[-53,.0119],[-51,-.0021],[-58,.0207],[-56,-.0214],[-54,.0143],[-52,.0088],[-50,.0176],[-60,-.0194],
  [-59.7,.0124],[-58.3,-.0093],[-57.7,.0168],[-56.3,-.0021],[-55.7,.0057],[-54.3,-.0159],[-53.7,.0096],[-52.3,-.0127],[-51.7,.0161],[-50.3,-.0066],
  [-59.3,-.0171],[-57.3,.0014],[-55.3,-.0141],[-53.3,.0178],[-51.3,-.0102],
  [-49,-.0168],[-48,.0174],[-47,-.0192],[-46,.0161],[-45,-.0153],[-44,.0189],[-43,-.0177],[-42,.0148],[-41,-.0201],[-40,.0171],
  [-49,.0044],[-47,-.0057],[-45,.0122],[-43,.0018],[-41,-.0113],[-48,-.0218],[-46,.0221],[-44,-.0049],[-42,-.0136],[-40,-.0176],[-50,.0193],
  [-49.7,.0158],[-48.3,-.0134],[-47.7,.0072],[-46.3,-.0041],[-45.7,.0169],[-44.3,-.0163],[-43.7,.0107],[-42.3,-.0072],[-41.7,.0127],[-40.3,-.0148],
  [-49.3,-.0027],[-47.3,.0139],[-45.3,-.0097],[-43.3,.0162],[-41.3,-.0176],
  [-39,.0176],[-38,-.0161],[-37,.0193],[-36,-.0178],[-35,.0158],[-34,-.0186],[-33,.0137],[-32,-.0167],[-31,.0201],[-30,-.0154],
  [-39,-.0032],[-37,.0068],[-35,-.0061],[-33,-.0014],[-31,.0092],[-38,.0229],[-36,-.0226],[-34,.0115],[-32,.0054],[-30,.0183],[-40,-.0199],
  [-39.7,.0138],[-38.3,-.0108],[-37.7,.0163],[-36.3,-.0139],[-35.7,.0081],[-34.3,-.0029],[-33.7,.0154],[-32.3,-.0121],[-31.7,.0169],[-30.3,-.0078],
  [-39.3,-.0172],[-37.3,.0024],[-35.3,-.0154],[-33.3,.0106],[-31.3,-.0163],
  [-29,-.0171],[-28,.0181],[-27,-.0188],[-26,.0167],[-25,-.0162],[-24,.0194],[-23,-.0179],[-22,.0174],[-21,-.0196],[-20,.0161],
  [-29,.0037],[-27,.0102],[-25,-.0019],[-23,.0057],[-21,-.0106],[-28,-.0221],[-26,.0216],[-24,-.0064],[-22,-.0138],[-20,.0204],[-30,.0156],
  [-29.7,.0146],[-28.3,-.0117],[-27.7,.0169],[-26.3,-.0071],[-25.7,.0124],[-24.3,-.0152],[-23.7,.0162],[-22.3,-.0049],[-21.7,.0171],[-20.3,-.0131],
  [-29.3,-.0163],[-27.3,.0058],[-25.3,-.0174],[-23.3,.0119],[-21.3,-.0158],
  [-19,.0178],[-18,-.0173],[-17,.0196],[-16,-.0184],[-15,.0164],[-14,-.0191],[-13,.0182],[-12,-.0177],[-11,.0203],[-10,-.0169],
  [-19,-.0026],[-17,.0042],[-15,-.0073],[-13,.0094],[-11,-.0047],[-18,.0231],[-16,-.0238],[-14,.0117],[-12,.0029],[-10,.0187],[-20,-.0201],
  [-19.7,.0152],[-18.3,-.0141],[-17.7,.0113],[-16.3,-.0057],[-15.7,.0171],[-14.3,-.0169],[-13.7,.0141],[-12.3,-.0091],[-11.7,.0167],[-10.3,-.0146],
  [-19.3,-.0176],[-17.3,.0162],[-15.3,-.0118],[-13.3,.0034],[-11.3,-.0168],
  [-9,-.0174],[-8,.0183],[-7,-.0192],[-6,.0177],[-5,-.0166],[-4,.0198],[-3,-.0183],[-2,.0186],[-1,-.0205],[0,.0172],
  [-9,.0036],[-7,.0062],[-5,-.0029],[-3,.0012],[-1,-.0058],[-8,-.0229],[-6,.0234],[-4,-.0089],[-2,.0128],[0,-.0187],[-10,.0201],
  [-9.7,.0159],[-8.3,-.0124],[-7.7,.0147],[-6.3,-.0163],[-5.7,.0068],[-4.3,-.0142],[-3.7,.0169],[-2.3,-.0118],[-1.7,.0153],[-.3,-.0166],
  [-9.3,-.0152],[-7.3,.0173],[-5.3,-.0034],[-3.3,.0109],[-1.3,-.0171],
  [1,.0181],[2,-.0176],[3,.0203],[4,-.0189],[5,.0174],[6,-.0197],[7,.0191],[8,-.0172],[9,.0186],[10,-.0181],
  [1,-.0038],[3,.0051],[5,-.0084],[7,.0028],[9,-.0062],[2,.0237],[4,-.0236],[6,.0105],[8,.0138],[10,.0218],[0,-.0211],
  [.3,.0156],[1.7,-.0143],[2.7,.0167],[3.3,-.0058],[4.7,.0127],[5.3,-.0166],[6.7,.0143],[7.7,-.0121],[8.3,.0171],[9.7,-.0151],
  [.7,-.0172],[2.3,.0089],[4.3,-.0134],[6.3,.0164],[8.7,-.0169],
  [11,-.0179],[12,.0187],[13,-.0194],[14,.0179],[15,-.0171],[16,.0201],[17,-.0186],[18,.0183],[19,-.0208],[20,.0176],
  [11,.0047],[13,-.0018],[15,.0063],[17,.0029],[19,-.0076],[12,-.0231],[14,.0228],[16,-.0069],[18,-.0147],[20,.0212],[10,-.0199],
  [10.7,.0161],[11.3,-.0153],[12.7,.0149],[13.3,-.0082],[14.7,.0166],[15.3,-.0141],[16.7,.0118],[17.7,-.0164],[18.3,.0153],[19.7,-.0112],
  [10.3,-.0168],[12.3,.0172],[14.3,-.0173],[16.3,.0041],[18.7,-.0159],
  [21,.0186],[22,-.0181],[23,.0197],[24,-.0187],[25,.0172],[26,-.0194],[27,.0184],[28,-.0176],[29,.0199],[30,-.0183],
  [21,-.0042],[23,.0058],[25,-.0071],[27,-.0022],[29,.0089],[22,.0229],[24,-.0233],[26,.0121],[28,.0036],[30,.0206],[20,-.0214],
  [20.3,.0168],[21.7,-.0147],[22.7,.0152],[23.3,-.0061],[24.7,.0163],[25.3,-.0162],[26.7,.0134],[27.7,-.0139],[28.3,.0169],[29.7,-.0164],
  [20.7,-.0171],[22.3,.0114],[24.3,-.0126],[26.3,.0171],[28.7,-.0152],
  [31,-.0177],[32,.0183],[33,-.0191],[34,.0176],[35,-.0169],[36,.0198],[37,-.0186],[38,.0171],[39,-.0203],[40,.0179],
  [31,.0039],[33,.0065],[35,-.0052],[37,.0012],[39,-.0094],[32,-.0224],[34,.0221],[36,-.0078],[38,-.0141],[40,.0204],[30,-.0196],
  [30.3,.0158],[31.7,-.0163],[32.7,.0141],[33.3,-.0144],[34.7,.0163],[35.3,-.0087],[36.7,.0171],[37.7,-.0161],[38.3,.0127],[39.7,-.0156],
  [30.7,-.0136],[32.3,.0169],[34.3,-.0171],[36.3,.0093],[38.7,-.0168],
  [41,.0181],[42,-.0179],[43,.0188],[44,-.0191],[45,.0169],[46,-.0186],[47,.0193],[48,-.0174],[49,.0186],[50,-.0188],
  [41,-.0047],[43,.0054],[45,-.0079],[47,-.0031],[49,.0072],[42,.0226],[44,-.0227],[46,.0118],[48,.0043],[50,.0203],[40,-.0212],
  [40.3,.0163],[41.7,-.0152],[42.7,.0137],[43.3,-.0168],[44.7,.0159],[45.3,-.0143],[46.7,.0166],[47.7,-.0097],[48.3,.0152],[49.7,-.0161],
  [40.7,-.0126],[42.3,.0171],[44.3,-.0159],[46.3,.0082],[48.7,-.0171],
  [51,-.0171],[52,.0178],[53,-.0186],[54,.0168],[55,-.0163],[56,.0191],[57,-.0179],[58,.0164],[59,-.0193],[60,.0171],
  [51,.0035],[53,.0071],[55,-.0044],[57,.0021],[59,-.0088],[52,-.0219],[54,.0214],[56,-.0066],[58,-.0137],[60,.0196],[50,-.0201],
  [50.3,.0157],[51.7,-.0148],[52.7,.0164],[53.3,-.0151],[54.7,.0143],[55.3,-.0139],[56.7,.0158],[57.7,-.0154],[58.3,.0167],[59.7,-.0133],
  [50.7,-.0166],[52.3,.0119],[54.3,-.0168],[56.3,.0134],[58.7,-.0161],
  [61,.0166],[62,-.0162],[63,.0179],[64,-.0181],[65,.0158],[66,-.0173],[67,.0186],[68,-.0159],[69,.0171],[70,-.0178],
  [61,-.0041],[63,.0053],[65,-.0083],[67,-.0027],[69,.0076],[62,.0211],[64,-.0214],[66,.0124],[68,.0046],[70,.0189],[60,-.0196],
  [60.3,.0148],[61.7,-.0137],[62.7,.0157],[63.3,-.0152],[64.7,.0149],[65.3,-.0163],[66.7,.0142],[67.7,-.0146],[68.3,.0161],[69.7,-.0138],
  [60.7,-.0158],[62.3,.0123],[64.3,-.0129],[66.3,.0168],[68.7,-.0164],
  [71,-.0163],[72,.0168],[73,-.0177],[74,.0161],[75,-.0154],[76,.0182],[77,-.0171],[78,.0153],[79,-.0186],[80,.0162],
  [71,.0033],[73,.0069],[75,-.0039],[77,.0029],[79,-.0091],[72,-.0207],[74,.0198],[76,-.0061],[78,-.0133],[80,.0178],[70,-.0191],
  [70.3,.0143],[71.7,-.0132],[72.7,.0149],[73.3,-.0146],[74.7,.0141],[75.3,-.0157],[76.7,.0152],[77.7,-.0139],[78.3,.0162],[79.7,-.0148],
  [70.7,-.0161],[72.3,.0128],[74.3,-.0118],[76.3,.0159],[78.7,-.0163],
  [81,.0158],[82,-.0157],[83,.0172],[84,-.0169],[85,.0149],[86,-.0166],[87,.0177],[88,-.0151],[89,.0163],[90,-.0172],
  [81,-.0038],[83,.0047],[85,-.0081],[87,-.0024],[89,.0071],[82,.0193],[84,-.0201],[86,.0117],[88,.0039],[90,.0168],[80,-.0183],
  [80.3,.0139],[81.7,-.0146],[82.7,.0151],[83.3,-.0133],[84.7,.0144],[85.3,-.0152],[86.7,.0137],[87.7,-.0141],[88.3,.0154],[89.7,-.0137],
  [80.7,-.0158],[82.3,.0121],[84.3,-.0124],[86.3,.0158],[88.7,-.0149],
  [91,-.0153],[92,.0161],[93,-.0168],[94,.0154],[95,-.0147],[96,.0173],[97,-.0162],[98,.0149],[99,-.0176],[100,.0157],
  [91,.0031],[93,.0064],[95,-.0036],[97,.0021],[99,-.0087],[92,-.0192],[94,.0187],[96,-.0058],[98,-.0126],[100,.0171],[90,-.0181],
  [90.3,.0132],[91.7,-.0138],[92.7,.0143],[93.3,-.0127],[94.7,.0136],[95.3,-.0148],[96.7,.0141],[97.7,-.0133],[98.3,.0146],[99.7,-.0129],
  [90.7,-.0143],[92.3,.0118],[94.3,-.0117],[96.3,.0151],[98.7,-.0141]
];

// ---- beam current profile: [z (mm), I (A)] ----
const currentProfile = [
  [-200,.05],[-197,.08],[-194,.1],[-191,.15],[-188,.13],[-185,.17],[-182,.25],[-180,.1],[-177,.24],[-174,.1],
  [-171,.12],[-168,.15],[-165,.3],[-161.5,.41],[-157,.35],[-152,.25],[-146.6,.36],[-143.1,.15],[-137.7,.32],[-133.6,.5],
  [-131.2,.45],[-128.2,.75],[-125.2,.75],[-122.3,.5],[-119.3,1.1],[-116.3,.75],[-112.8,.66],[-109.8,.95],[-106.8,.92],[-103.9,.9],
  [-100.9,1.73],[-97.9,1.2],[-94.9,1.55],[-92,1.8],[-89,2.53],[-86,1.9],[-83.1,2.2],[-80.1,1.75],[-76.5,2.7],[-73.5,2.2],
  [-71.2,3.0],[-68.2,3.5],[-66.4,3.42],[-61.7,2.67],[-58.7,3.48],[-55.7,3.83],[-52.8,3.78],[-49.8,3.44],[-46.8,4.19],[-43.9,3.96],
  [-40.9,4.26],[-37.9,3.6],[-34.9,4.3],[-32.6,4.4],[-29,5.15],[-26,5.16],[-23.1,4.08],[-19.9,5.65],[-16.9,4.6],[-13.9,5.53],
  [-10.6,4.35],[-7.6,5.03],[-4.6,5.65],[-1.7,4.5],[1.3,4.3],[4.3,5.4],[7.2,6.58],[10.2,5.53],[13.2,5.74],[16.2,4.76],
  [19.1,4.8],[22.1,4.76],[25.1,4.26],[28.1,4.2],[31,4.46],[34,4.35],[37,4.3],[40.5,3.44],[43.5,3.39],[46.5,3.96],
  [49.4,3.96],[53,3.01],[55.4,2.87],[58.9,2.94],[61.9,2.84],[64.9,3.62],[67.8,3.48],[70.8,2.8],[73.8,2.48],[79.7,2.48],
  [82.7,1.91],[85.7,1.87],[88.7,1.91],[91.6,1.28],[94.6,1.73],[97.6,1.28],[100.5,.98],[104.1,.96],[106.5,1.05],[109.4,1.23],
  [112.4,.93],[115.4,.8],[118.4,1.1],[121.3,.8],[124.3,.45],[127.3,.75],[130.2,.66],[133.2,.66],[136.2,.75],[139.1,.87],
  [142.7,.21],[145.7,.3],[148.7,.3],[151.6,.34],[154.6,.3],[157.6,.34],[160.5,.1],[163.5,.25],[166.5,.2],[169.4,.25],
  [172.4,.18],[175.4,.15],[178.4,.08],[181.4,.08],[184.3,.08],[187.3,.25],[190.3,.12],[193.2,.06],[196.2,.08],[200,.05]
];

// ---- shared styling ----
const FONT = 'DejaVu Sans';
const TEXT = '#262626';
const GRID = '#b0b0b0';
const SPINE = '#262626';
const tickFont = { family: FONT, size: 18 };
const fmt = (v, d) => Number(v).toFixed(d).replace('-', '\u2212');

function xAxis(height, hideEdgeGrid) {
  return {
    type: 'linear', min: -200, max: 200,
    afterBuildTicks: s => { s.ticks = zTicks.map(v => ({ value: v })); },
    afterFit: s => { s.height = height; },
    ticks: { callback: v => fmt(v, 0), font: tickFont, color: TEXT, padding: 6, maxRotation: 0, autoSkip: false },
    grid: {
      z: 1, lineWidth: 1.3, tickLength: 6, tickColor: SPINE, tickWidth: 1.3,
      color: c => (hideEdgeGrid && c.tick && c.tick.value === 200) ? 'rgba(0,0,0,0)' : GRID
    },
    border: { display: false },
    title: { display: true, text: 'z (mm)', font: tickFont, color: TEXT, padding: { top: 4, bottom: 4 } }
  };
}

function yAxis(min, max, ticks, digits, width, title) {
  return {
    type: 'linear', min, max,
    afterBuildTicks: s => { s.ticks = ticks.map(v => ({ value: v })); },
    afterFit: s => { s.width = width; },
    ticks: { callback: v => fmt(v, digits), font: tickFont, color: TEXT, padding: 8, autoSkip: false },
    grid: { z: 1, color: GRID, lineWidth: 1.3, tickLength: 6, tickColor: SPINE, tickWidth: 1.3 },
    border: { display: false },
    title: title
  };
}

// Panel A: full box, rotated mixed-style axis label and in-axes legend
const phaseDecor = {
  id: 'phaseDecor',
  afterDraw(chart) {
    const { ctx, chartArea: a } = chart;
    ctx.save();
    ctx.strokeStyle = SPINE;
    ctx.lineWidth = 1.6;
    ctx.strokeRect(a.left, a.top, a.right - a.left, a.bottom - a.top);

    // legend box
    const w = 289, h = 34;
    const x0 = a.right - 8 - w, y0 = a.top + 11;
    ctx.beginPath();
    ctx.roundRect(x0, y0, w, h, 4);
    ctx.fillStyle = 'rgba(255,255,255,0.9)';
    ctx.fill();
    ctx.strokeStyle = '#3a3a3a';
    ctx.lineWidth = 1.2;
    ctx.stroke();
    ctx.beginPath();
    ctx.arc(x0 + 26, y0 + h / 2, 2.6, 0, Math.PI * 2);
    ctx.fillStyle = '#111';
    ctx.fill();
    ctx.font = `18px "${FONT}"`;
    ctx.fillStyle = TEXT;
    ctx.textBaseline = 'middle';
    ctx.textAlign = 'left';
    ctx.fillText(legendLabel, x0 + 62, y0 + h / 2 + 1);

    // y-axis label: 100%*Δp/p with italic p
    const parts = [['100%*\u0394', 'normal'], ['p', 'italic'], ['/', 'normal'], ['p', 'italic']];
    const widths = parts.map(([t, s]) => { ctx.font = `${s} 18px "${FONT}"`; return ctx.measureText(t).width; });
    const total = widths.reduce((p, c) => p + c, 0);
    ctx.translate(272, (a.top + a.bottom) / 2);
    ctx.rotate(-Math.PI / 2);
    let x = -total / 2;
    parts.forEach(([t, s], i) => {
      ctx.font = `${s} 18px "${FONT}"`;
      ctx.fillText(t, x, 0);
      x += widths[i];
    });
    ctx.restore();
  }
};

// Panel B: left and bottom spines only
const profileDecor = {
  id: 'profileDecor',
  afterDraw(chart) {
    const { ctx, chartArea: a } = chart;
    ctx.save();
    ctx.strokeStyle = SPINE;
    ctx.lineWidth = 1.6;
    ctx.beginPath();
    ctx.moveTo(a.left, a.top);
    ctx.lineTo(a.left, a.bottom);
    ctx.lineTo(a.right, a.bottom);
    ctx.stroke();
    ctx.restore();
  }
};

const common = {
  responsive: false,
  animation: false,
  devicePixelRatio: 1,
  events: [],
  plugins: { legend: { display: false }, tooltip: { enabled: false } }
};

const toXY = ([z, v]) => ({ x: z, y: v });

new Chart(document.getElementById('phaseSpace'), {
  type: 'scatter',
  data: {
    datasets: [
      {
        label: legendLabel,
        data: excitedTails.concat(excitedCore).map(toXY),
        pointRadius: 2.9, pointBorderWidth: 0, borderWidth: 0,
        pointBackgroundColor: 'rgba(10,12,16,0.9)', backgroundColor: 'rgba(10,12,16,0.9)'
      },
      {
        label: 'ions',
        data: otherTails.concat(otherCore).map(toXY),
        pointRadius: 2.9, pointBorderWidth: 0, borderWidth: 0,
        pointBackgroundColor: 'rgba(86,180,233,0.42)', backgroundColor: 'rgba(86,180,233,0.42)'
      }
    ]
  },
  options: {
    ...common,
    layout: { padding: { left: 257, right: 25, top: 68, bottom: 0 } },
    scales: {
      x: xAxis(66, false),
      y: yAxis(-0.05, 0.05, dpTicks, 2, 115, { display: false })
    }
  },
  plugins: [phaseDecor]
});

new Chart(document.getElementById('currentProfile'), {
  type: 'line',
  data: {
    datasets: [{
      label: 'I',
      data: currentProfile.map(toXY),
      fill: 'origin',
      backgroundColor: 'rgb(108,187,227)',
      borderColor: '#3a3a3a',
      borderWidth: 1.6,
      pointRadius: 0,
      tension: 0
    }]
  },
  options: {
    ...common,
    layout: { padding: { left: 278, right: 25, top: 43, bottom: 0 } },
    scales: {
      x: xAxis(67, true),
      y: yAxis(0, 20, currentTicks, 1, 94,
        { display: true, text: 'I (A)', font: tickFont, color: TEXT, padding: { top: 4, bottom: 4 } })
    }
  },
  plugins: [profileDecor]
});
</script>
</body>
</html>
